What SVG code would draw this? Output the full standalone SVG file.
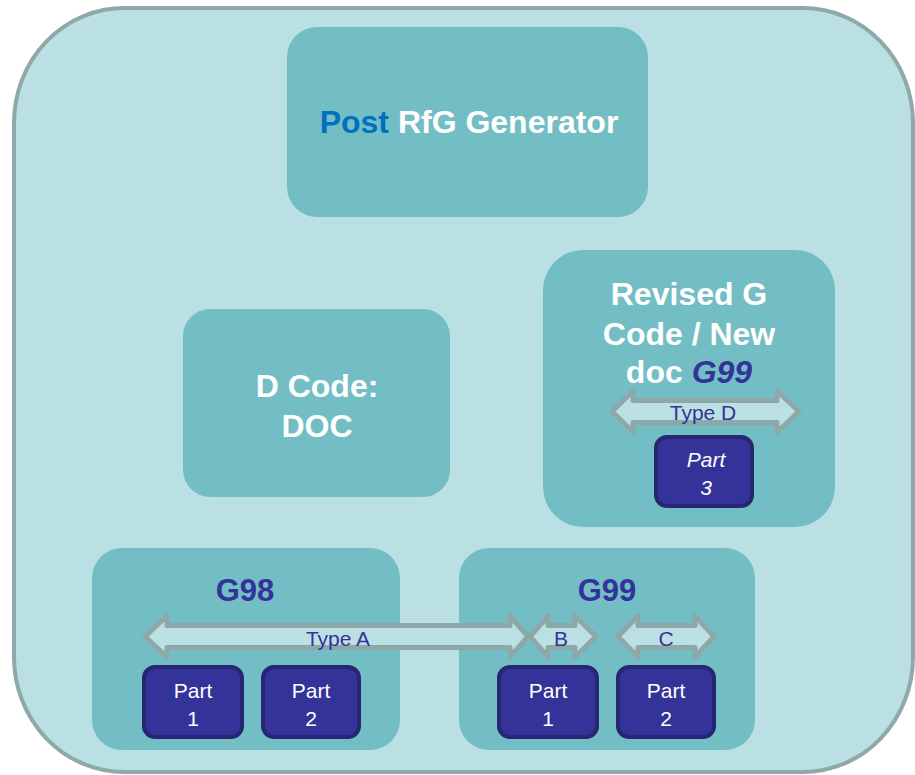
<svg xmlns="http://www.w3.org/2000/svg" width="915" height="775" viewBox="0 0 915 775">
<style>
.box{fill:#73bec4}
.big{font-family:"Liberation Sans",Arial,sans-serif;font-weight:bold;font-size:32px;fill:#ffffff;text-anchor:middle}
.grp{font-family:"Liberation Sans",Arial,sans-serif;font-weight:bold;font-size:31px;fill:#333399;text-anchor:middle}
.part{fill:#333399;stroke:#262673;stroke-width:4}
.pt{font-family:"Liberation Sans",Arial,sans-serif;font-size:21px;fill:#ffffff;text-anchor:middle}
.arr{fill:#bbe0e3;stroke:#8ea7a9;stroke-width:5;stroke-linejoin:round}
.lbl{font-family:"Liberation Sans",Arial,sans-serif;font-size:21px;fill:#333399;text-anchor:middle}
</style>
<rect width="915" height="775" fill="#ffffff"/>
<g id="outer">
<rect x="14" y="8" width="899" height="764" rx="110" ry="115" fill="#bbe0e3" stroke="#8fa8aa" stroke-width="4"/>
</g>
<g id="post-rfg">
<rect class="box" x="287" y="27" width="361" height="190" rx="30"/>
<text class="big" x="469" y="133"><tspan fill="#0070c0">Post</tspan> RfG Generator</text>
</g>
<g id="d-code">
<rect class="box" x="183" y="309" width="267" height="188" rx="27"/>
<text class="big" x="317" y="397">D Code:</text>
<text class="big" x="317" y="437">DOC</text>
</g>
<g id="revised">
<rect class="box" x="543" y="250" width="292" height="277" rx="40"/>
<text class="big" x="689" y="305">Revised G</text>
<text class="big" x="689" y="345">Code / New</text>
<text class="big" x="689" y="383">doc <tspan fill="#333399" font-style="italic">G99</tspan></text>
</g>
<g id="g98">
<rect class="box" x="92" y="548" width="308" height="202" rx="30"/>
<text class="grp" x="245" y="601">G98</text>
</g>
<g id="g99">
<rect class="box" x="459" y="548" width="296" height="202" rx="30"/>
<text class="grp" x="607" y="601">G99</text>
</g>
<g id="connectors">
<polygon class="arr" points="145,636.5 167,616 167,625.5 510,625.5 510,616 528,636.5 510,657 510,647.5 167,647.5 167,657"/>
<polygon class="arr" points="530,636.5 548,616 548,625.5 575,625.5 575,616 596,636.5 575,657 575,647.5 548,647.5 548,657"/>
<polygon class="arr" points="618,636.5 638,616 638,625.5 695,625.5 695,616 714,636.5 695,657 695,647.5 638,647.5 638,657"/>
<polygon class="arr" points="612,411.5 633,391 633,400.5 777,400.5 777,391 799,411.5 777,432 777,422.5 633,422.5 633,432"/>
<text class="lbl" x="338" y="646">Type A</text>
<text class="lbl" x="561" y="646">B</text>
<text class="lbl" x="666" y="646">C</text>
<text class="lbl" x="703" y="420">Type D</text>
</g>
<g id="part3">
<rect class="part" x="656" y="437" width="96" height="69" rx="11"/>
<text class="pt" x="706" y="467" font-style="italic">Part</text>
<text class="pt" x="706" y="495" font-style="italic">3</text>
</g>
<g id="g98-part1">
<rect class="part" x="144" y="667" width="98" height="70" rx="11"/>
<text class="pt" x="193" y="698">Part</text>
<text class="pt" x="193" y="726">1</text>
</g>
<g id="g98-part2">
<rect class="part" x="263" y="667" width="96" height="70" rx="11"/>
<text class="pt" x="311" y="698">Part</text>
<text class="pt" x="311" y="726">2</text>
</g>
<g id="g99-part1">
<rect class="part" x="499" y="667" width="98" height="70" rx="11"/>
<text class="pt" x="548" y="698">Part</text>
<text class="pt" x="548" y="726">1</text>
</g>
<g id="g99-part2">
<rect class="part" x="618" y="667" width="96" height="70" rx="11"/>
<text class="pt" x="666" y="698">Part</text>
<text class="pt" x="666" y="726">2</text>
</g>
</svg>
